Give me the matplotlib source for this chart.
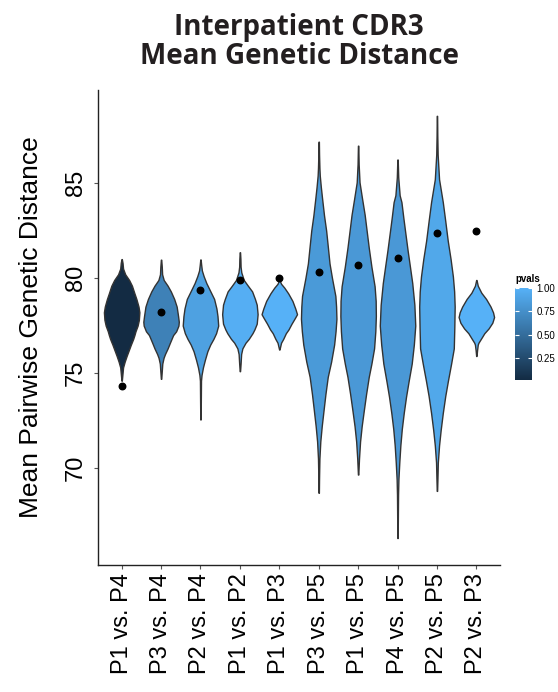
import numpy as np
import matplotlib
matplotlib.use('Agg')
import matplotlib.pyplot as plt
from matplotlib.colors import LinearSegmentedColormap, Normalize
from matplotlib.cm import ScalarMappable

plt.rcParams['font.family'] = ['Liberation Sans', 'DejaVu Sans']

# comparisons, observed values and p-values
comparisons = ['P1 vs. P4', 'P3 vs. P4', 'P2 vs. P4', 'P1 vs. P2', 'P1 vs. P3',
               'P3 vs. P5', 'P1 vs. P5', 'P4 vs. P5', 'P2 vs. P5', 'P2 vs. P3']
observed = [74.3, 78.2, 79.4, 79.9, 80.0, 80.3, 80.7, 81.06, 82.4, 82.5]
pvals = [0.02, 0.65, 0.88, 0.98, 1.0, 0.83, 0.82, 0.82, 0.93, 1.0]

# violin outlines: y value and relative half width
y_p1p4 = [81.0, 80.8, 80.5, 80.2, 79.9, 79.6, 79.2, 78.9, 78.5, 78.2, 77.8, 77.5, 77.2,
          77.0, 76.8, 76.5, 76.2, 75.9, 75.6, 75.3, 75.0, 74.6]
w_p1p4 = [0.01, 0.05, 0.08, 0.2, 0.42, 0.58, 0.72, 0.83, 0.95, 1.0, 0.97, 0.9, 0.78,
          0.72, 0.65, 0.52, 0.4, 0.28, 0.17, 0.08, 0.05, 0.01]

y_p3p4 = [80.97, 80.6, 80.2, 79.9, 79.6, 79.3, 78.9, 78.5, 78.0, 77.7, 77.5, 77.2, 77.0,
          76.6, 76.3, 76.0, 75.8, 75.5, 75.1, 74.7]
w_p3p4 = [0.01, 0.04, 0.06, 0.15, 0.37, 0.55, 0.74, 0.88, 0.96, 1.0, 0.98, 0.85, 0.68,
          0.5, 0.37, 0.22, 0.14, 0.07, 0.04, 0.01]

y_p2p4 = [80.98, 80.7, 80.4, 80.1, 79.74, 79.3, 78.9, 78.4, 78.0, 77.5, 77.1, 76.8, 76.5,
          76.15, 75.7, 75.3, 74.9, 74.6, 73.5, 72.56]
w_p2p4 = [0.01, 0.04, 0.08, 0.18, 0.33, 0.56, 0.77, 0.9, 0.96, 1.0, 0.88, 0.73, 0.55,
          0.39, 0.25, 0.14, 0.06, 0.03, 0.02, 0.01]

y_p1p2 = [81.36, 81.0, 80.6, 80.3, 79.9, 79.6, 79.3, 78.9, 78.6, 78.1, 77.6, 77.3, 77.1,
          76.8, 76.6, 76.3, 76.0, 75.5, 75.1]
w_p1p2 = [0.01, 0.03, 0.04, 0.08, 0.22, 0.45, 0.69, 0.85, 0.95, 1.0, 0.95, 0.82, 0.71,
          0.5, 0.32, 0.14, 0.07, 0.04, 0.01]

y_p1p3 = [79.9, 79.7, 79.5, 79.2, 78.8, 78.4, 78.1, 77.9, 77.6, 77.3, 77.1, 76.8, 76.6, 76.24]
w_p1p3 = [0.01, 0.1, 0.28, 0.5, 0.74, 0.9, 1.0, 0.88, 0.69, 0.52, 0.37, 0.22, 0.1, 0.01]

y_p3p5 = [87.18, 86.5, 85.8, 85.4, 84.8, 84.2, 83.3, 82.5, 81.6, 80.77, 80.0, 79.06, 78.5,
          77.86, 77.2, 76.5, 75.6, 74.8, 73.9, 73.1, 72.2, 71.4, 70.5, 69.5, 68.7]
w_p3p5 = [0.01, 0.02, 0.04, 0.06, 0.12, 0.19, 0.3, 0.42, 0.52, 0.61, 0.75, 0.94, 0.98,
          1.0, 0.95, 0.87, 0.7, 0.51, 0.38, 0.28, 0.17, 0.09, 0.04, 0.02, 0.01]

y_p1p5 = [86.97, 86.0, 85.04, 84.2, 83.33, 82.5, 81.6, 80.6, 79.57, 78.8, 78.0, 77.2, 76.3,
          75.5, 74.8, 73.9, 73.1, 72.2, 71.4, 70.5, 69.66]
w_p1p5 = [0.01, 0.03, 0.08, 0.22, 0.37, 0.48, 0.6, 0.75, 0.93, 0.99, 1.0, 0.97, 0.9,
          0.75, 0.6, 0.45, 0.33, 0.2, 0.11, 0.05, 0.01]

y_p4p5 = [86.24, 85.3, 84.36, 84.0, 83.16, 82.3, 81.45, 80.6, 79.74, 78.6, 77.5, 76.5, 75.5,
          74.6, 73.76, 72.9, 72.05, 71.2, 70.3, 69.4, 68.6, 67.5, 66.32]
w_p4p5 = [0.01, 0.04, 0.12, 0.22, 0.33, 0.45, 0.57, 0.7, 0.83, 0.95, 1.0, 0.92, 0.8,
          0.63, 0.48, 0.35, 0.24, 0.16, 0.1, 0.05, 0.03, 0.02, 0.01]

y_p2p5 = [88.54, 87.5, 86.5, 85.2, 84.0, 83.0, 81.96, 81.0, 80.08, 79.3, 78.5, 77.4, 76.3,
          75.5, 74.6, 73.8, 72.9, 72.0, 71.2, 70.3, 69.5, 68.8]
w_p2p5 = [0.01, 0.02, 0.04, 0.12, 0.33, 0.47, 0.61, 0.77, 0.9, 0.97, 1.0, 0.98, 0.95,
          0.8, 0.62, 0.47, 0.33, 0.21, 0.12, 0.05, 0.03, 0.01]

y_p2p3 = [79.9, 79.6, 79.23, 78.9, 78.5, 78.2, 77.95, 77.65, 77.35, 77.1, 76.84, 76.6,
          76.5, 76.2, 75.9]
w_p2p3 = [0.01, 0.08, 0.28, 0.55, 0.8, 0.94, 1.0, 0.9, 0.69, 0.45, 0.28, 0.12, 0.08,
          0.04, 0.01]

profiles = [(y_p1p4, w_p1p4), (y_p3p4, w_p3p4), (y_p2p4, w_p2p4), (y_p1p2, w_p1p2),
            (y_p1p3, w_p1p3), (y_p3p5, w_p3p5), (y_p1p5, w_p1p5), (y_p4p5, w_p4p5),
            (y_p2p5, w_p2p5), (y_p2p3, w_p2p3)]

positions = np.arange(1, len(comparisons) + 1)

# ggplot-like default gradient
cmap = LinearSegmentedColormap.from_list('gg', ['#132B43', '#56B1F7'])
norm = Normalize(vmin=min(pvals), vmax=max(pvals))

fig = plt.figure(figsize=(5.58, 6.92), dpi=100)
ax = fig.add_axes([98 / 558, 1 - 565 / 692, 402 / 558, 475 / 692])

vpstats = []
for ys, ws in profiles:
    ys = np.array(ys)
    vpstats.append(dict(coords=ys, vals=np.array(ws), mean=ys.mean(),
                        median=np.median(ys), min=ys.min(), max=ys.max()))

parts = ax.violin(vpstats, positions=positions, widths=0.9, showextrema=False)
for body, p in zip(parts['bodies'], pvals):
    body.set_facecolor(cmap(norm(p)))
    body.set_edgecolor('#333333')
    body.set_linewidth(1.0)
    body.set_alpha(1)

ax.scatter(positions, observed, s=22, color='black', zorder=3)

ax.set_xlim(0.4, 10.6)
ax.set_ylim(64.9, 89.9)
ax.set_xticks(positions)
ax.set_xticklabels(comparisons, rotation=90, fontsize=17)
ax.set_yticks([70, 75, 80, 85])
ax.set_yticklabels(['70', '75', '80', '85'], rotation=90, va='center', fontsize=17)
ax.tick_params(axis='both', length=3, width=0.8, color='#555555', pad=3)
ax.tick_params(axis='y', pad=5)
ax.set_ylabel('Mean Pairwise Genetic Distance', fontsize=19)
ax.yaxis.set_label_coords(-0.137, 0.5)

for s in ['top', 'right']:
    ax.spines[s].set_visible(False)
for s in ['left', 'bottom']:
    ax.spines[s].set_linewidth(1.0)
    ax.spines[s].set_color('#222222')

# title
cx = 299 / 558
fig.text(cx, 1 - 35 / 692, 'Interpatient CDR3', ha='center', va='baseline',
         fontsize=20, fontweight='bold', family=['Open Sans', 'DejaVu Sans'], color='#231f20')
fig.text(cx, 1 - 64 / 692, 'Mean Genetic Distance', ha='center', va='baseline',
         fontsize=20, fontweight='bold', family=['Open Sans', 'DejaVu Sans'], color='#231f20')

# colour bar legend
cax = fig.add_axes([515 / 558, 1 - 380 / 692, 17 / 558, 92 / 692])
cb = fig.colorbar(ScalarMappable(norm=norm, cmap=cmap), cax=cax)
cb.outline.set_visible(False)
cb.set_ticks([0.25, 0.5, 0.75, 1.0])
cb.set_ticklabels(['0.25', '0.50', '0.75', '1.00'])
cax.tick_params(direction='in', length=3, color='white', labelsize=7, pad=3,
                left=True, right=True)
cax.set_title('pvals', fontsize=7, fontweight='bold', loc='left', pad=4)

fig.savefig('out.png', dpi=100)
